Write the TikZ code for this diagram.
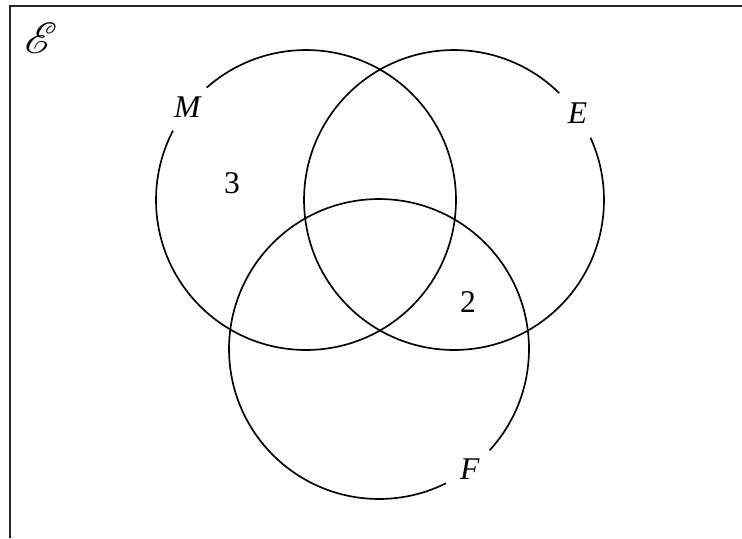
\documentclass[tikz,border=0pt]{standalone}
\usepackage{fontspec}
\setmainfont{Liberation Serif}
\usepackage{mathrsfs}
\tikzset{
    set/.style={shape=circle,draw=black,line width=0.95pt,minimum size=6cm,inner sep=0},
    set label/.style={shape=circle,fill=white,minimum size=1.1cm,inner sep=0,font=\fontsize{18}{20}\selectfont\itshape},
    count/.style={font=\fontsize{18}{20}\selectfont}
}
\tikzstyle{frame}=[line width=1.1pt,draw=black!85]

\begin{document}
\begin{tikzpicture}[x=0.02cm,y=-0.02cm]
    \useasboundingbox (0,0) rectangle (742,538);
    \draw[frame] (10,538) -- (10,6) -- (742,6);
    \node[font=\fontsize{25}{28}\selectfont] (U) at (41,38) {$\mathscr{E}$};

    % the three sets
    \node[set] (M) at (306,200) {};
    \node[set] (E) at (454,200) {};
    \node[set] (F) at (379,349) {};

    \node[set label] (lM) at (M.142) {M};
    \node[set label] (lE) at (E.35) {E};
    \node[set label] (lF) at (F.-53) {F};

    \node[count] (n3) at (232,183) {3};
    \node[count] (n2) at (468,302) {2};
\end{tikzpicture}
\end{document}
